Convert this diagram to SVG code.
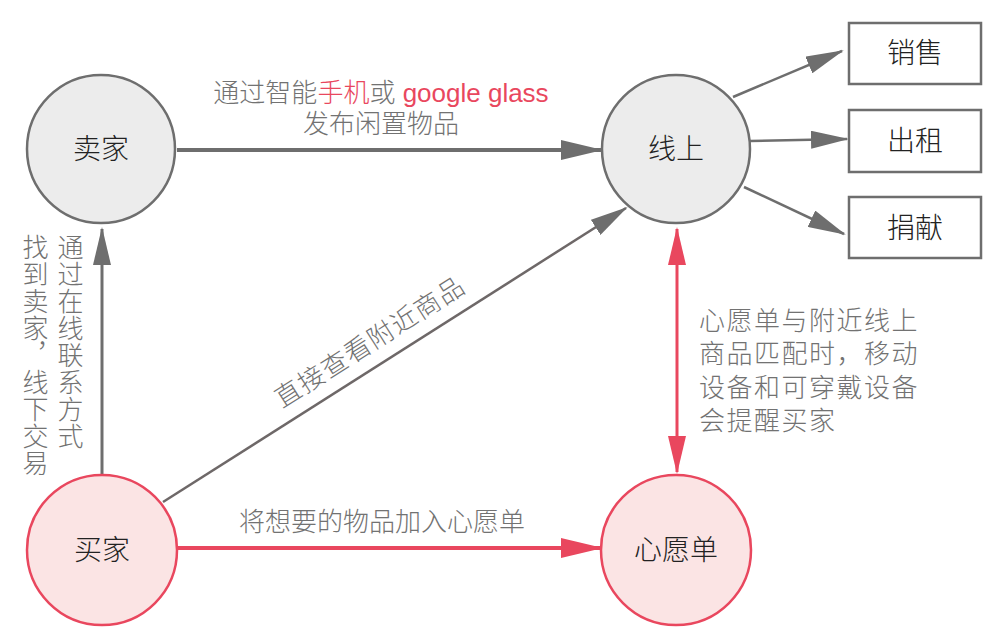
<svg xmlns="http://www.w3.org/2000/svg" width="998" height="644" viewBox="0 0 998 644">
<style>
.gray{fill:#ececec;stroke:#6e6e6e;stroke-width:2.5}
.pink{fill:#fbe4e4;stroke:#e9475e;stroke-width:2.5}
.box{fill:#ffffff;stroke:#6e6e6e;stroke-width:2.5}
.nt{font-family:"Liberation Sans","Noto Sans CJK SC",sans-serif;font-size:28px;font-weight:300;fill:#222222;text-anchor:middle}
.lb{font-family:"Liberation Sans","Noto Sans CJK SC",sans-serif;font-size:26px;font-weight:300;fill:#727272}
.red{fill:#e9475e}
.vt{writing-mode:vertical-rl;letter-spacing:1px}
</style>
<defs>
<marker id="agBig" markerUnits="userSpaceOnUse" viewBox="0 0 42 20" refX="40" refY="10" markerWidth="42" markerHeight="20" orient="auto"><path d="M0,0 L42,10 L0,20 z" fill="#6e6e6e"/></marker>
<marker id="ag" markerUnits="userSpaceOnUse" viewBox="0 0 38 18" refX="36" refY="9" markerWidth="38" markerHeight="18" orient="auto"><path d="M0,0 L38,9 L0,18 z" fill="#6e6e6e"/></marker>
<marker id="arBig" markerUnits="userSpaceOnUse" viewBox="0 0 42 20" refX="40" refY="10" markerWidth="42" markerHeight="20" orient="auto"><path d="M0,0 L42,10 L0,20 z" fill="#e9475e"/></marker>
<marker id="ar" markerUnits="userSpaceOnUse" viewBox="0 0 38 18" refX="36" refY="9" markerWidth="38" markerHeight="18" orient="auto-start-reverse"><path d="M0,0 L38,9 L0,18 z" fill="#e9475e"/></marker>
</defs>
<g id="connectors" fill="none">
<line x1="177" y1="150" x2="601" y2="150" stroke="#6e6e6e" stroke-width="4" marker-end="url(#agBig)"/>
<line x1="102" y1="474" x2="102" y2="229" stroke="#6e6e6e" stroke-width="3" marker-end="url(#ag)"/>
<line x1="163" y1="502" x2="626" y2="208" stroke="#6e6868" stroke-width="2.5" marker-end="url(#ag)"/>
<line x1="733" y1="97" x2="842" y2="51" stroke="#6e6e6e" stroke-width="2.5" marker-end="url(#ag)"/>
<line x1="750" y1="141" x2="847" y2="139" stroke="#6e6e6e" stroke-width="2.5" marker-end="url(#ag)"/>
<line x1="744" y1="187" x2="844" y2="234" stroke="#6e6e6e" stroke-width="2.5" marker-end="url(#ag)"/>
<line x1="177" y1="548" x2="601" y2="548" stroke="#e9475e" stroke-width="4" marker-end="url(#arBig)"/>
<line x1="677" y1="229" x2="677" y2="472" stroke="#e9475e" stroke-width="3" marker-start="url(#ar)" marker-end="url(#ar)"/>
</g>
<g id="labels">
<text class="lb" x="381" y="102" text-anchor="middle" font-size="26.6">通过智能<tspan class="red">手机</tspan>或 <tspan class="red">google glass</tspan></text>
<text class="lb" x="381" y="133" text-anchor="middle">发布闲置物品</text>
<text class="lb" x="382" y="531" text-anchor="middle">将想要的物品加入心愿单</text>
<text class="lb" transform="translate(370,342) rotate(-32.4)" x="0" y="9" text-anchor="middle" letter-spacing="1.5">直接查看附近商品</text>
<text class="lb" x="699" y="330" letter-spacing="1.5">心愿单与附近线上</text>
<text class="lb" x="699" y="363" letter-spacing="1.5">商品匹配时，移动</text>
<text class="lb" x="699" y="397" letter-spacing="1.5">设备和可穿戴设备</text>
<text class="lb" x="699" y="430" letter-spacing="1.5">会提醒买家</text>
<text class="lb vt" x="68" y="234">通过在线联系方式</text>
<text class="lb vt" x="33" y="234">找到卖家，线下交易</text>
</g>
<g id="node-seller"><circle class="gray" cx="101" cy="149" r="74"/><text class="nt" x="101" y="159">卖家</text></g>
<g id="node-online"><circle class="gray" cx="676" cy="149" r="74"/><text class="nt" x="676" y="159">线上</text></g>
<g id="node-buyer"><circle class="pink" cx="102" cy="550" r="75"/><text class="nt" x="102" y="560">买家</text></g>
<g id="node-wishlist"><circle class="pink" cx="676" cy="550" r="75"/><text class="nt" x="676" y="560">心愿单</text></g>
<g id="node-sale"><rect class="box" x="849" y="23" width="132" height="61"/><text class="nt" x="915" y="63">销售</text></g>
<g id="node-rent"><rect class="box" x="849" y="110" width="132" height="62"/><text class="nt" x="915" y="151">出租</text></g>
<g id="node-donate"><rect class="box" x="849" y="197" width="132" height="61"/><text class="nt" x="915" y="238">捐献</text></g>
</svg>
